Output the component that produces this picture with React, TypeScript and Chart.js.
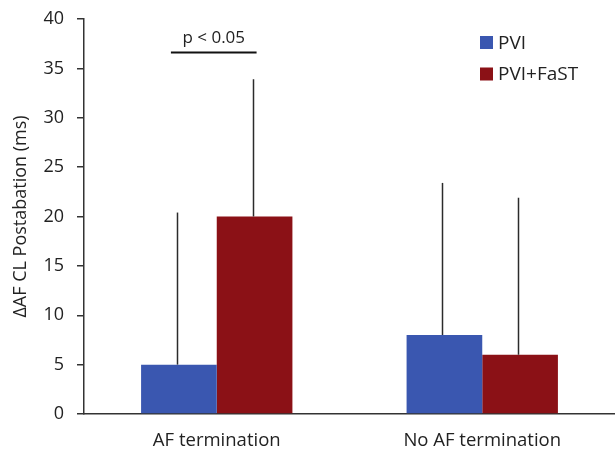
import React, { useEffect, useRef } from "react";
import { Chart, registerables } from "chart.js";

Chart.register(...registerables);

const categories = ["AF termination", "No AF termination"];
const seriesNames = ["PVI", "PVI+FaST"];
const pviValues = [5, 8];
const fastValues = [20, 6];
const pviErrorTop = [20.4, 23.4];
const fastErrorTop = [33.9, 21.9];
const seriesColors = ["#3A57B0", "#8B1116"];
const yTicks = [0, 5, 10, 15, 20, 25, 30, 35, 40];
const sigLevel = 36.6;
const sigLabel = "p < 0.05";
const yTitle = "ΔAF CL Postabation (ms)";

const FONT = "'Open Sans', 'Noto Sans', sans-serif";

const overlayPlugin = {
  id: "overlay",
  afterDatasetsDraw(chart: any) {
    const ctx = chart.ctx;
    const y = chart.scales.y;
    const tops = [pviErrorTop, fastErrorTop];
    ctx.save();
    ctx.strokeStyle = "#2b2b2b";
    ctx.lineWidth = 1.5;
    tops.forEach((arr, di) => {
      const meta = chart.getDatasetMeta(di);
      meta.data.forEach((bar: any, i: number) => {
        const x = Math.round(bar.x - 2) + 0.5;
        ctx.beginPath();
        ctx.moveTo(x, bar.y);
        ctx.lineTo(x, y.getPixelForValue(arr[i]));
        ctx.stroke();
      });
    });
    // significance bracket over first category
    const b0 = chart.getDatasetMeta(0).data[0];
    const b1 = chart.getDatasetMeta(1).data[0];
    const x0 = b0.x - 8;
    const x1 = b1.x + 2;
    const sy = y.getPixelForValue(sigLevel);
    ctx.lineWidth = 2;
    ctx.strokeStyle = "#111";
    ctx.beginPath();
    ctx.moveTo(x0, sy);
    ctx.lineTo(x1, sy);
    ctx.stroke();
    ctx.fillStyle = "#222";
    ctx.font = `17px ${FONT}`;
    ctx.textAlign = "center";
    ctx.textBaseline = "alphabetic";
    ctx.fillText(sigLabel, (x0 + x1) / 2, sy - 10);

    // legend
    const lx = 480;
    const ly = [42.5, 74];
    ctx.font = `19px ${FONT}`;
    ctx.textAlign = "left";
    ctx.textBaseline = "middle";
    seriesNames.forEach((n, i) => {
      ctx.fillStyle = seriesColors[i];
      ctx.fillRect(lx, ly[i] - 6.5, 13, 13);
      ctx.fillStyle = "#222";
      ctx.fillText(n, lx + 18, ly[i] + 1);
    });
    ctx.restore();
  },
};

export default function App() {
  const ref = useRef<HTMLCanvasElement>(null);
  useEffect(() => {
    document.body.style.margin = "0";
    const chart = new Chart(ref.current!, {
      type: "bar",
      data: {
        labels: categories,
        datasets: [
          { label: seriesNames[0], data: pviValues, backgroundColor: seriesColors[0] },
          { label: seriesNames[1], data: fastValues, backgroundColor: seriesColors[1] },
        ],
      },
      options: {
        animation: false,
        responsive: false,
        layout: { padding: { top: 19, right: 0, left: 0, bottom: 0 } },
        datasets: { bar: { categoryPercentage: 0.57, barPercentage: 1 } },
        plugins: { legend: { display: false }, tooltip: { enabled: false } },
        scales: {
          x: {
            grid: { display: false, drawTicks: false },
            border: { color: "#333", width: 1.5 },
            ticks: { color: "#222", font: { family: FONT, size: 18.5 }, padding: 16 },
            afterFit: (s: any) => { s.height = 37; s.paddingLeft = 0; s.paddingRight = 0; },
          },
          y: {
            min: 0,
            max: 40,
            afterBuildTicks: (s: any) => { s.ticks = yTicks.map((v) => ({ value: v })); },
            grid: { drawOnChartArea: false, tickLength: 7, color: "#333", lineWidth: 1.5 },
            border: { color: "#333", width: 1.5 },
            ticks: { color: "#222", font: { family: FONT, size: 18 }, padding: 13 },
            title: { display: true, text: yTitle, color: "#222", font: { family: FONT, size: 18 }, padding: { top: 10, bottom: 0 } },
            afterFit: (s: any) => { s.width = 84; s.paddingTop = 0; s.paddingBottom = 0; },
          },
        },
      } as any,
      plugins: [overlayPlugin],
    });
    return () => chart.destroy();
  }, []);
  return (
    <div style={{ position: "absolute", left: 0, top: 0, width: 615, height: 451 }}>
      <canvas ref={ref} width={615} height={451} />
    </div>
  );
}
